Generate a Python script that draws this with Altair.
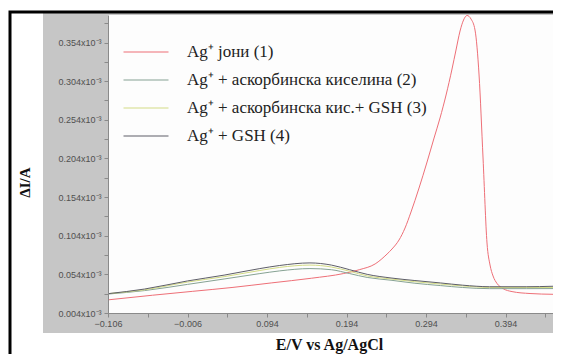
import altair as alt
import pandas as pd

# ---- data (current in units of 1e-3 A) ----
series_names = [
    "Ag⁺ јони (1)",
    "Ag⁺ + аскорбинска киселина (2)",
    "Ag⁺ + аскорбинска кис.+ GSH (3)",
    "Ag⁺ + GSH (4)",
]
colors = ["#ee6f77", "#86a293", "#d3dc86", "#5e5e68"]

E_red = [-0.106, -0.05, 0.0, 0.05, 0.1, 0.15, 0.19, 0.21, 0.23, 0.245, 0.2512, 0.2600,
         0.2676, 0.2751, 0.2852, 0.2953, 0.3041, 0.3116, 0.3192, 0.3267, 0.3317, 0.3368,
         0.3412, 0.3456, 0.3506, 0.3556, 0.3607, 0.3657, 0.3707, 0.3745, 0.3783, 0.3833,
         0.3909, 0.4022, 0.4248, 0.4537]
I_red = [0.021, 0.027, 0.032, 0.037, 0.043, 0.049, 0.055, 0.060, 0.0675, 0.0803, 0.0868, 0.0984,
         0.1140, 0.1347, 0.1657, 0.1994, 0.2304, 0.2563, 0.2861, 0.3197, 0.3443, 0.3689,
         0.3831, 0.3890, 0.3844, 0.3702, 0.3120, 0.2046, 0.0946, 0.0661, 0.0519, 0.0422,
         0.0356, 0.0317, 0.0292, 0.0282]

E_other = [-0.106, -0.06, -0.006, 0.04, 0.085, 0.11, 0.148, 0.175, 0.198, 0.22, 0.25,
           0.28, 0.312, 0.34, 0.374, 0.42, 0.4537]
I_green = [0.0285, 0.033, 0.041, 0.048, 0.055, 0.0585, 0.0615, 0.060, 0.055, 0.050, 0.0464,
           0.0425, 0.0395, 0.037, 0.0355, 0.0355, 0.0356]
I_yellow = [0.029, 0.034, 0.044, 0.051, 0.059, 0.063, 0.066, 0.0635, 0.058, 0.052, 0.048,
            0.0445, 0.0415, 0.039, 0.037, 0.037, 0.037]
I_grey = [0.029, 0.035, 0.0455, 0.053, 0.0615, 0.0655, 0.0688, 0.066, 0.060, 0.054, 0.0493,
          0.046, 0.0429, 0.040, 0.038, 0.038, 0.0386]

x_major = [-0.106, -0.006, 0.094, 0.194, 0.294, 0.394]
x_minor = [-0.056, 0.044, 0.144, 0.244, 0.344, 0.444]
y_major = [0.004, 0.054, 0.104, 0.154, 0.204, 0.254, 0.304, 0.354]
y_minor = [0.029, 0.079, 0.129, 0.179, 0.229, 0.279, 0.329, 0.379]

rows = []
for name, E, I in zip(series_names,
                      [E_red, E_other, E_other, E_other],
                      [I_red, I_green, I_yellow, I_grey]):
    for e, i in zip(E, I):
        rows.append({"series": name, "E": e, "I": i})
df = pd.DataFrame(rows)

W, H = 445, 298
one = alt.Data(values=[{}])

panel = alt.Chart(one).mark_rect(color="#c6c6c6").encode(
    x=alt.value(-65), x2=alt.value(W + 20), y=alt.value(-3), y2=alt.value(318))
plotbg = alt.Chart(one).mark_rect(color="#fdfdfd").encode(
    x=alt.value(0), x2=alt.value(W + 20), y=alt.value(0), y2=alt.value(H))
frame = alt.Chart(one).mark_rect(fillOpacity=0, stroke="black", strokeWidth=3).encode(
    x=alt.value(-98), x2=alt.value(W + 40), y=alt.value(-3), y2=alt.value(H + 80))

xscale = alt.Scale(domain=[-0.106, 0.4537], nice=False, zero=False)
yscale = alt.Scale(domain=[0.004, 0.3896], nice=False, zero=False)

common_axis = dict(domainColor="#8a8a8a", tickColor="#8a8a8a", labelColor="#505050",
                   labelFont="Liberation Sans", labelFontSize=9, tickSize=4,
                   domainWidth=1, tickWidth=1, grid=False, zindex=1, labelFlush=False)

lines = alt.Chart(df).mark_line(strokeWidth=1, interpolate="monotone", clip=True).encode(
    x=alt.X("E:Q", scale=xscale, axis=alt.Axis(
        values=x_major, format=".3f", labelPadding=2, orient="bottom",
        title="E/V vs Ag/AgCl", titleFont="Liberation Serif", titleFontWeight="bold",
        titleFontSize=16, titleColor="#111", titleX=221, titleY=36,
        titleAlign="center", titleBaseline="alphabetic", titleAnchor="start",
        **common_axis)),
    y=alt.Y("I:Q", scale=yscale, axis=alt.Axis(
        values=y_major, labelExpr="format(datum.value, '.3f') + 'x10⁻³'",
        labelPadding=3, orient="left",
        title="ΔI/A", titleFont="Liberation Serif", titleFontWeight="bold",
        titleFontSize=15, titleColor="#111", titleX=-84, titleY=167,
        titleAngle=-90, titleAlign="center", titleBaseline="middle", titleAnchor="start",
        **common_axis)),
    color=alt.Color("series:N", scale=alt.Scale(domain=series_names, range=colors),
                    legend=alt.Legend(orient="none", legendX=26, legendY=25, title=None,
                                      symbolType="M-2,0L2,0", symbolSize=506,
                                      symbolStrokeWidth=1.2, labelFont="Liberation Serif",
                                      labelFontSize=17, labelColor="#222", labelOffset=29,
                                      rowPadding=8, padding=0, labelLimit=400)),
)

minor = alt.Chart(df).mark_line(opacity=0).encode(
    x=alt.X("E:Q", scale=xscale, axis=alt.Axis(
        values=x_minor, labels=False, domain=False, title=None, orient="bottom",
        tickColor="#8a8a8a", tickSize=4, tickWidth=1, zindex=1)),
    y=alt.Y("I:Q", scale=yscale, axis=alt.Axis(
        values=y_minor, labels=False, domain=False, title=None, orient="left",
        tickColor="#8a8a8a", tickSize=4, tickWidth=1, zindex=1)),
    detail="series:N",
)

chart = alt.layer(panel, plotbg, frame, lines, minor).resolve_axis(
    x="independent", y="independent"
).properties(
    width=W, height=H,
    autosize=alt.AutoSizeParams(type="none"),
    padding={"left": 100, "top": 7, "right": 0, "bottom": 41},
    background="white",
).configure_view(stroke=None)

chart.save("out.html", embed_options={"renderer": "svg", "actions": False})
